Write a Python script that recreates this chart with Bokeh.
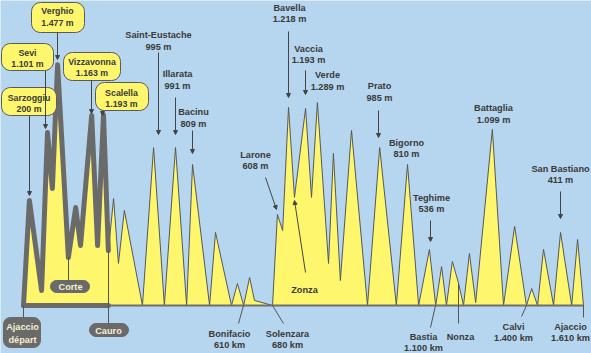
import math
from bokeh.plotting import figure
from bokeh.models import Range1d, Arrow, NormalHead
from bokeh.core.properties import value
from bokeh.embed import file_html
from bokeh.resources import INLINE

# ---------------- data ----------------
# profile vertices: distance (km) and altitude (m, drawing not to scale)
profile_km = [0, 17, 52, 69, 83, 98, 129, 150, 164, 196, 213, 230, 244,
              259, 273, 290, 342, 374, 405, 437, 469, 486, 535, 552, 598,
              615, 633, 650, 664, 716, 730, 745, 762, 779, 811, 828, 845,
              877, 891, 911, 943, 989, 1024, 1072, 1104, 1136, 1167, 1185,
              1202, 1216, 1233, 1251, 1265, 1282, 1300, 1348, 1380, 1412,
              1446, 1461, 1478, 1495, 1524, 1544, 1576, 1593, 1610]
profile_alt = [0, 644, 92, 1061, 718, 1477, 294, 601, 368, 1166, 368, 1170, 337,
               656, 258, 583, 0, 969, 0, 969, 0, 865, 0, 448, 0,
               135, 0, 172, 31, 0, 558, 460, 1215, 663, 1209, 663, 1245,
               258, 933, 153, 1074, 0, 969, 0, 865, 0, 344, 0,
               239, 0, 270, 135, 0, 319, 18, 1080, 0, 485,
               0, 104, 0, 344, 0, 448, 0, 405, 0]
stage1_end_km = 244  # Ajaccio -> Corte -> Cauro

boxed_names = ["Verghio", "Sevi", "Sarzoggiu", "Vizzavonna", "Scalella"]
boxed_alts = ["1.477 m", "1.101 m", "200 m", "1.163 m", "1.193 m"]

pass_names = ["Saint-Eustache", "Illarata", "Bacinu", "Bavella", "Vaccia",
              "Verde", "Prato", "Bigorno", "Teghime", "Battaglia",
              "San Bastiano", "Larone"]
pass_alts = ["995 m", "991 m", "809 m", "1.218 m", "1.193 m",
             "1.289 m", "985 m", "810 m", "536 m", "1.099 m",
             "411 m", "608 m"]

town_names = ["Bonifacio", "Solenzara", "Bastia", "Calvi", "Ajaccio"]
town_km = ["610 km", "680 km", "1.100 km", "1.400 km", "1.610 km"]

pill_names = ["Corte", "Cauro", "Ajaccio\ndépart"]

# ---------------- scales (pixel helpers for annotations) ----------------
KM_PER_PX = 1610 / 560
M_PER_PX = 1 / 0.163

def X(px):
    return (px - 23) * KM_PER_PX

def Y(py):
    return (305 - py) * M_PER_PX

BG = "#b5d6ee"
YEL = "#fef66c"
DARK = "#3a3a3a"
GREY = "#6a6a6a"
FONT = value("Liberation Sans")
FS = "9.2px"

p = figure(width=591, height=353, x_range=Range1d(X(0), X(591)),
           y_range=Range1d(Y(353), Y(0)), output_backend="svg",
           toolbar_location=None, min_border=0)
p.axis.visible = False
p.grid.visible = False
p.outline_line_color = None
p.background_fill_color = BG
p.border_fill_color = BG

# profile
p.patch(profile_km, profile_alt, fill_color=YEL, line_color="#55575a", line_width=1)
p.line([profile_km[0], profile_km[-1]], [0, 0], line_color="#6f6f6f", line_width=2)

# first stage highlighted
s1x = [k for k in profile_km if k <= stage1_end_km]
s1y = profile_alt[:len(s1x)]
p.line(s1x, s1y, line_color=GREY, line_width=5, line_join="round", line_cap="round")
p.line([0, stage1_end_km], [0, 0], line_color=GREY, line_width=5, line_cap="round")

# rounded rect helper (pixel space -> data)
def rrect(x0, y0, x1, y1, r, n=6):
    pts = []
    corners = [(x1 - r, y0 + r, -90), (x1 - r, y1 - r, 0), (x0 + r, y1 - r, 90), (x0 + r, y0 + r, 180)]
    for cx, cy, a0 in corners:
        for i in range(n + 1):
            a = math.radians(a0 + 90 * i / n)
            pts.append((cx + r * math.cos(a), cy + r * math.sin(a)))
    return [X(a) for a, b in pts], [Y(b) for a, b in pts]

# yellow boxes
boxes = [(31, 2, 84, 32), (1, 43, 53, 70), (1, 87, 56, 115), (63, 52, 120, 80), (95, 82, 148, 110)]
box_text = [(57, 10, 22), (27, 52, 63), (28.5, 97, 108), (91.5, 61, 72), (121, 92, 103)]
bxs, bys = [], []
for b in boxes:
    xx, yy = rrect(*b, r=9)
    bxs.append(xx); bys.append(yy)
p.patches(bxs, bys, fill_color=YEL, line_color="#5a5a5a", line_width=1)

# grey pills
pills = [(50, 280, 89, 292, 6), (89, 323, 128, 336, 6.5), (3, 317, 40, 347, 7)]
pxs, pys = [], []
for b in pills:
    xx, yy = rrect(*b[:4], r=b[4])
    pxs.append(xx); pys.append(yy)
p.patches(pxs, pys, fill_color=GREY, line_color=GREY, line_width=1)

# arrows
arrows = [(57, 32, 57, 59), (45, 70, 45, 128), (29, 115, 29, 195), (91, 80, 91, 113),
          (102, 110, 102, 115), (158, 52, 158, 134), (175, 97, 175, 134), (192, 130, 192, 153),
          (288, 31, 288, 97), (305, 70, 305, 94), (378, 110, 378, 137), (430, 220, 430, 241),
          (560, 191, 560, 218), (265, 177, 276, 209), (305, 272, 294, 200)]
for x0, y0, x1, y1 in arrows:
    p.add_layout(Arrow(x_start=X(x0), y_start=Y(y0), x_end=X(x1), y_end=Y(y1),
                       line_color="#444444", line_width=1,
                       end=NormalHead(size=4, fill_color="#444444", line_color="#444444")))

# pointer lines
ptr = [(68, 257, 68, 280), (108, 250, 108, 323), (23, 305, 23, 317), (243, 305, 238, 323),
       (272, 305, 283, 323), (435, 305, 430, 327), (458, 283, 458, 323), (526, 305, 521, 316),
       (583, 305, 583, 317)]
p.segment([X(a[0]) for a in ptr], [Y(a[1]) for a in ptr], [X(a[2]) for a in ptr],
          [Y(a[3]) for a in ptr], line_color="#555555", line_width=1)

# texts inside yellow boxes
bx, by, bt = [], [], []
for name, alt, (cx, y1, y2) in zip(boxed_names, boxed_alts, box_text):
    bx += [X(cx), X(cx)]; by += [Y(y1), Y(y2)]; bt += [name, alt]
rb = p.text(bx, by, text=bt, text_font=FONT, text_font_style="bold", text_font_size="8.8px",
            text_color=DARK, text_align="center", text_baseline="middle")
rb.level = "overlay"

# other texts
tx, ty, tt = [], [], []
pass_pos = [(158, 34, 46), (177, 73, 85), (193, 111, 123), (289, 7, 18), (308, 48, 59),
            (327, 74, 86), (379, 85, 97), (406, 142, 153), (431, 197, 208), (493, 107, 119),
            (560, 168, 179), (255, 154, 165)]
for name, alt, (cx, y1, y2) in zip(pass_names, pass_alts, pass_pos):
    tx += [X(cx), X(cx)]; ty += [Y(y1), Y(y2)]; tt += [name, alt]

town_pos = [(229, 333, 344), (287, 333, 344), (423, 336, 347), (513, 326, 337), (570, 326, 337)]
for name, km, (cx, y1, y2) in zip(town_names, town_km, town_pos):
    tx += [X(cx), X(cx)]; ty += [Y(y1), Y(y2)]; tt += [name, km]
tx += [X(304), X(460)]; ty += [Y(289), Y(336)]; tt += ["Zonza", "Nonza"]

r = p.text(tx, ty, text=tt, text_font=FONT, text_font_style="bold", text_font_size=FS,
           text_color=DARK, text_align="center", text_baseline="middle")
r.level = "overlay"

pill_pos = [(70, 286), (108, 330), (22, 333)]
r2 = p.text([X(a) for a, b in pill_pos], [Y(b) for a, b in pill_pos], text=pill_names,
            text_font=FONT, text_font_style="bold", text_font_size=FS,
            text_color="#f4f0d2", text_align="center", text_baseline="middle",
            text_line_height=1.25)
r2.level = "overlay"

open("out.html", "w").write(file_html(p, INLINE))
